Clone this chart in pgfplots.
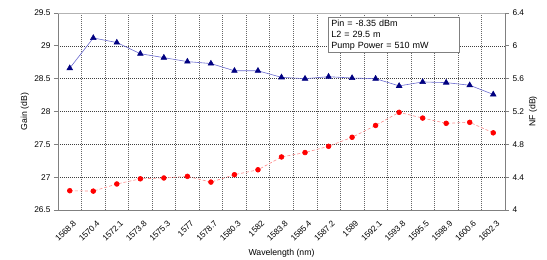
\documentclass[border=0pt]{standalone}
\usepackage{fontspec}
\setmainfont{Liberation Sans}
\usepackage{pgfplots}
\pgfplotsset{compat=1.18}
\definecolor{navy}{HTML}{000080}
\definecolor{bluel}{HTML}{6A6AD0}
\definecolor{redl}{HTML}{FF8A8A}
\definecolor{gridc}{HTML}{404040}
\definecolor{axc}{HTML}{808080}
\begin{document}
\begin{tikzpicture}[x=1pt,y=1pt]
\pgfplotsset{
  every axis/.append style={
    scale only axis, width=447pt, height=197pt,
    xmin=-0.5, xmax=18.5,
    /pgf/number format/assume math mode=true,
    tick label style={font=\fontsize{8.3}{9}\selectfont},
    label style={font=\fontsize{8.7}{10}\selectfont},
    tick align=outside,
    major tick length=4pt,
    axis line style={axc, line width=0.7pt},
    tick style={axc, line width=0.7pt},
  }
}
\begin{axis}[
  axis x line*=bottom, axis y line*=left,
  ymin=26.5, ymax=29.5, ytick={26.5,27,...,29.5},
  yticklabel style={/pgf/number format/fixed},
  xtick={0,...,18},
  xticklabels={1568.8,1570.4,1572.1,1573.8,1575.3,1577,1578.7,1580.3,1582,1583.8,1585.4,1587.2,1589,1592.1,1593.8,1595.5,1598.9,1600.6,1602.3},
  xticklabel style={rotate=45, anchor=north east, inner sep=1pt, yshift=-5pt, xshift=-1pt},
  x tick style={draw=none},
  minor xtick={0.5,1.5,...,17.5},
  minor tick length=4pt,
  xminorgrids=true, ymajorgrids=true,
  grid style={gridc, dash pattern=on 1pt off 1pt, line width=0.5pt},
  minor grid style={gridc!80, dash pattern=on 1pt off 1pt, line width=0.5pt},
  every minor tick/.style={axc, line width=0.7pt},
  ylabel={Gain (dB)},
  ylabel style={at={(axis description cs:-0.074,0.5)}, anchor=center},
  xlabel={Wavelength (nm)},
  xlabel style={at={(axis description cs:0.5,-0.218)}, anchor=center},
]
\draw[axc!60, line width=0.6pt] (rel axis cs:0,1) -- (rel axis cs:1,1);
\addplot[bluel, line width=0.6pt, mark=triangle*, mark size=3.2pt, mark options={navy, fill=navy, solid}] coordinates {
(0,28.66)(1,29.12)(2,29.05)(3,28.88)(4,28.82)(5,28.76)(6,28.73)(7,28.62)(8,28.62)(9,28.52)(10,28.50)(11,28.53)(12,28.51)(13,28.50)(14,28.39)(15,28.45)(16,28.44)(17,28.40)(18,28.26)};
\node[draw=axc, line width=0.6pt, fill=white, anchor=north west, align=left, inner xsep=3pt, inner ysep=2.5pt, text width=125pt, font=\fontsize{9}{11}\selectfont] at (rel axis cs:0.604,0.98) {Pin = -8.35 dBm\\L2 = 29.5 m\\Pump Power = 510 mW};
\end{axis}
\begin{axis}[
  axis x line=none, axis y line*=right,
  ymin=4, ymax=6.4, ytick={4,4.4,...,6.4},
  yticklabel style={/pgf/number format/fixed, /pgf/number format/precision=1},
  xtick=\empty,
  ylabel={NF (dB)},
  ylabel style={at={(axis description cs:1.063,0.5)}, anchor=center, rotate=0},
]
\addplot[redl, densely dashed, line width=0.6pt, mark=*, mark size=2.4pt, mark options={red, fill=red, solid}] coordinates {
(0,4.235)(1,4.23)(2,4.317)(3,4.38)(4,4.39)(5,4.41)(6,4.34)(7,4.43)(8,4.49)(9,4.646)(10,4.70)(11,4.776)(12,4.886)(13,5.03)(14,5.19)(15,5.12)(16,5.056)(17,5.068)(18,4.94)};
\end{axis}
\pgfresetboundingbox
\path[use as bounding box] (-58,-50) rectangle (489,210);
\end{tikzpicture}
\end{document}
